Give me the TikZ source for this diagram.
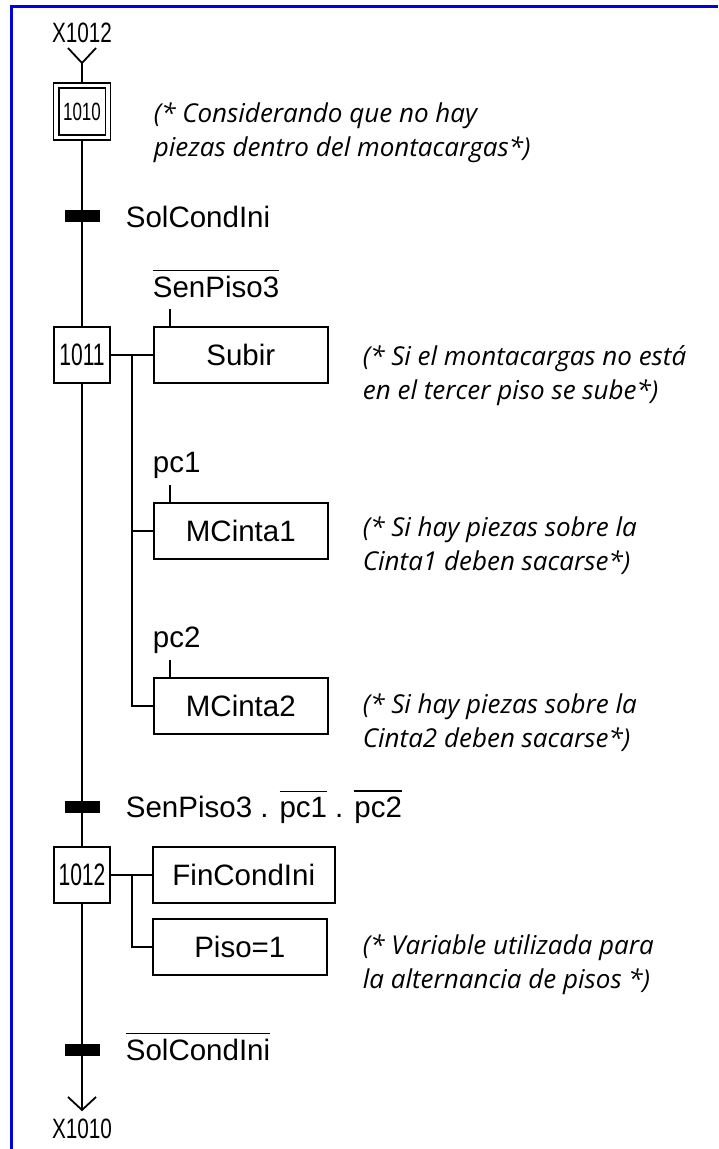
\documentclass[tikz,border=0pt]{standalone}
\usepackage{fontspec}
\setmainfont{Liberation Sans}
\newfontfamily\estrecha[FakeStretch=0.68]{Liberation Sans}
\newfontfamily\xfont[FakeStretch=0.74]{Liberation Sans}
\newfontfamily\comentfont{Open Sans}
\usetikzlibrary{positioning}
\newcommand{\negada}[1]{\vbox{\hrule height 1.5pt\kern 5pt\hbox{#1}}}

\begin{document}
\begin{tikzpicture}[x=1pt,y=-1pt,line width=1.8pt]
\tikzstyle{every node}+=[inner sep=0pt]
\tikzstyle{etapa}=[draw, minimum size=56pt, font=\fontsize{31}{31}\estrecha]
\tikzstyle{accion}=[draw, minimum width=174pt, minimum height=56pt, font=\fontsize{29.5}{34}\selectfont]
\tikzstyle{trans}=[fill=black, minimum width=35pt, minimum height=12pt]
\tikzstyle{receptiv}=[anchor=base west, font=\fontsize{29.5}{34}\selectfont]
\tikzstyle{coment}=[anchor=west, align=left, font=\fontsize{26}{34}\comentfont\itshape]
\tikzstyle{marco}=[draw={rgb,255:red,0;green,0;blue,225}, line width=2.8pt]

\useasboundingbox (0,0) rectangle (718,1149);
\draw[marco] (718,6.5) -- (11.5,6.5) -- (11.5,1149);

% etapas
\node[etapa, minimum size=57pt, font=\fontsize{25}{25}\estrecha] (e1010) at (82,111.5) {1010};
\draw ([shift={(6,6)}]e1010.north west) rectangle ([shift={(-6,-6)}]e1010.south east);
\node[etapa] (e1011) at (82,355) {1011};
\node[etapa] (e1012) at (82,875) {1012};

\coordinate (entrada) at (82,63);
\coordinate (salida) at (82,1110);
\node[font=\fontsize{28}{28}\xfont] (x1012) at (82,33) {X1012};
\node[font=\fontsize{28}{28}\xfont] (x1010) at (82,1129) {X1010};

% acciones
\node[accion, right=42pt of e1011] (subir) {Subir};
\node[accion, below=118pt of subir] (mcinta1) {MCinta1};
\node[accion, below=117pt of mcinta1] (mcinta2) {MCinta2};
\node[accion, minimum width=182pt, right=41pt of e1012] (fin) {FinCondIni};
\node[accion, below=14pt of fin.south west, anchor=north west] (piso) {Piso=1};

% transiciones
\node[trans] (t1) at (82.5,216) {};
\node[trans] (t2) at (82.5,807) {};
\node[trans] (t3) at (82.5,1050) {};
\node[receptiv] (r1) at (125,227.5) {SolCondIni};
\node[receptiv] (r2) at (125,817.5) {SenPiso3 . \negada{pc1} . \negada{pc2}};
\node[receptiv] (r3) at (125,1060.5) {\negada{SolCondIni}};

% condiciones de las acciones
\node[receptiv] (c1) at (152,297.5) {\negada{SenPiso3}};
\node[receptiv] (c2) at (152,472.5) {pc1};
\node[receptiv] (c3) at (152,647.5) {pc2};
\foreach \a in {subir,mcinta1,mcinta2}
  \draw ([xshift=17pt]\a.north west) -- ++(0,-17);

\path
  (entrada) edge (e1010)
  (e1010) edge (e1011)
  (e1011) edge (e1012)
  (e1012) edge (salida)
  (e1011) edge (subir)
  (e1012) edge (fin)
;
\draw ([shift={(-14,-15)}]entrada) -- (entrada) -- ([shift={(14,-15)}]entrada);
\draw ([shift={(-14,-13)}]salida) -- (salida) -- ([shift={(14,-13)}]salida);

\coordinate (rama1) at ([xshift=21pt]e1011.east);
\coordinate (rama2) at ([xshift=21pt]e1012.east);
\draw (rama1) |- (mcinta2.west);
\draw (rama1 |- mcinta1.west) -- (mcinta1.west);
\draw (rama2) |- (piso.west);

% comentarios
\node[coment] (k1) at (153,132.5) {(* Considerando que no hay\\piezas dentro del montacargas*)};
\node[coment] (k2) at (362,376) {(* Si el montacargas no está\\en el tercer piso se sube*)};
\node[coment] (k3) at (362,546) {(* Si hay piezas sobre la\\Cinta1 deben sacarse*)};
\node[coment] (k4) at (362,723) {(* Si hay piezas sobre la\\Cinta2 deben sacarse*)};
\node[coment] (k5) at (362,965) {(* Variable utilizada para\\la alternancia de pisos *)};
\end{tikzpicture}
\end{document}
